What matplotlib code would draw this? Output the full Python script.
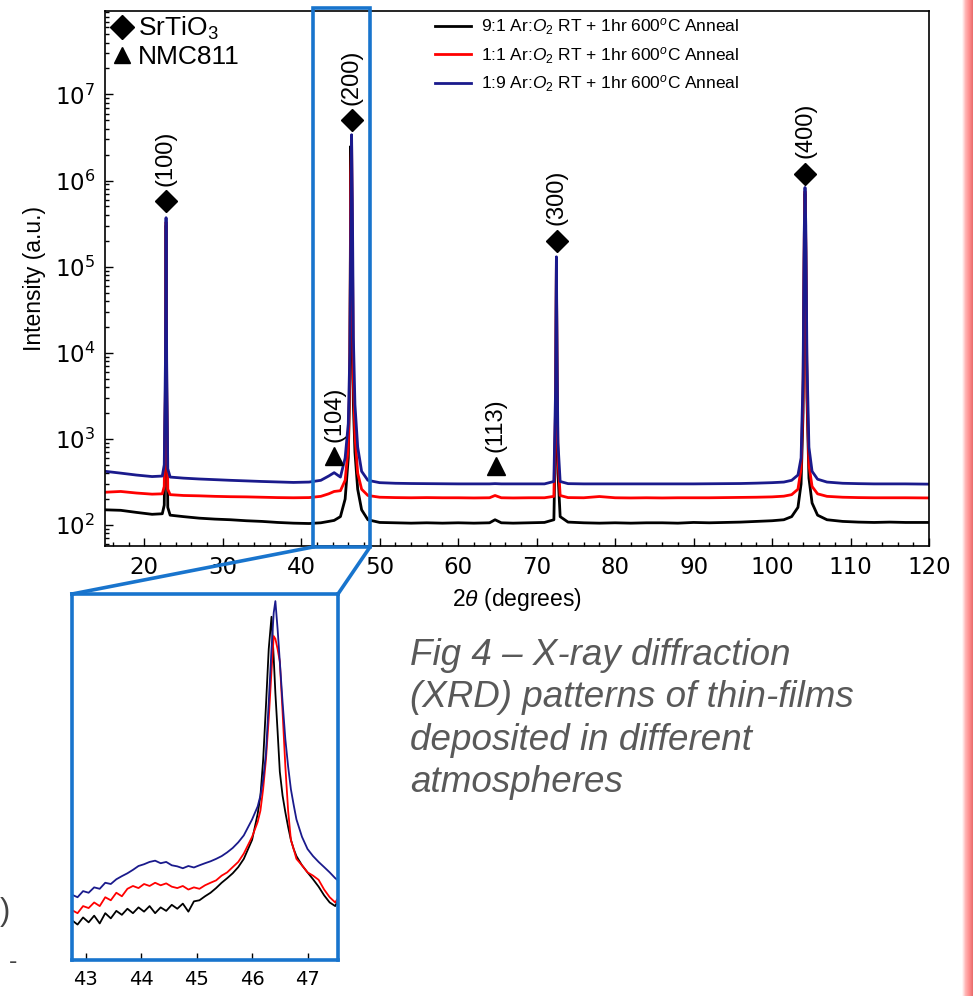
import matplotlib
matplotlib.use("Agg")
import matplotlib.pyplot as plt
import numpy as np
from matplotlib.lines import Line2D
from matplotlib.patches import Rectangle
from matplotlib.font_manager import FontProperties
from matplotlib.colors import LinearSegmentedColormap
from matplotlib.ticker import LogLocator, MultipleLocator, NullFormatter

plt.rcParams["font.family"] = ["DejaVu Sans"]
plt.rcParams["mathtext.rm"] = "Liberation Sans"
plt.rcParams["mathtext.it"] = "Liberation Sans:italic"
plt.rcParams["mathtext.bf"] = "Liberation Sans:bold"

# ---- data: full scan (main plot) ----
two_theta = [15, 17, 19, 21, 22.3, 22.55, 22.7, 22.78, 22.86, 23.0, 23.3,
             25, 27, 29, 31, 33, 35, 37, 39, 41,
             42.5, 43.5, 44.2, 45.0, 45.6, 46.0, 46.2, 46.32, 46.42, 46.52, 46.65, 46.85, 47.2, 47.7, 48.5,
             50, 52, 54, 56, 58, 60, 62, 64, 64.7, 65.5, 67, 69, 71,
             72.2, 72.42, 72.52, 72.6, 72.72, 73.0, 74,
             76, 78, 80, 82, 84, 86, 88, 90, 92, 94, 96, 98, 100,
             101.5, 102.5, 103.3, 103.7, 103.95, 104.1, 104.2, 104.3, 104.45, 104.7, 105.1, 105.8,
             107, 109, 111, 113, 115, 117, 120]

int_91 = [150, 148, 140, 133, 135, 170, 3000, 3.0e5, 3000, 160, 130,
          125, 120, 117, 115, 112, 110, 107, 105, 104,
          106, 110, 113, 125, 200, 600, 5000, 2.5e6, 3e5, 15000, 2500, 700, 260, 150, 115,
          107, 106, 105, 106, 105, 106, 105, 106, 115, 106, 105, 106, 107,
          115, 1500, 1.1e5, 5000, 400, 125, 108,
          106, 105, 106, 105, 106, 106, 105, 107, 106, 107, 108, 110, 112,
          115, 125, 160, 300, 2000, 1.2e5, 7.0e5, 1.5e5, 3000, 350, 180, 130,
          115, 110, 108, 107, 108, 107, 107]

int_11 = [240, 245, 235, 228, 230, 280, 4000, 3.3e5, 4000, 260, 225,
          220, 218, 215, 213, 212, 210, 208, 207, 208,
          215, 230, 245, 250, 330, 800, 6000, 1.2e6, 3.0e6, 2e5, 5000, 1100, 400, 260, 220,
          210, 208, 207, 208, 207, 207, 206, 207, 220, 207, 206, 207, 207,
          215, 2500, 1.2e5, 6000, 600, 220, 208,
          207, 214, 207, 206, 207, 206, 207, 207, 207, 208, 209, 210, 212,
          216, 225, 260, 450, 3000, 2e5, 7.5e5, 2e5, 4000, 500, 280, 230,
          215, 210, 208, 207, 207, 207, 206]

int_19 = [420, 400, 380, 365, 370, 500, 8000, 3.7e5, 8000, 450, 360,
          350, 342, 336, 330, 325, 320, 316, 312, 315,
          330, 370, 405, 360, 600, 1500, 10000, 3e5, 3.4e6, 6e5, 15000, 2500, 800, 420, 330,
          310, 305, 303, 302, 301, 300, 300, 300, 302, 300, 300, 300, 300,
          320, 4000, 1.3e5, 10000, 900, 320, 302,
          300, 300, 300, 300, 300, 300, 300, 300, 301, 302, 303, 306, 310,
          315, 330, 380, 600, 5000, 2.5e5, 8.3e5, 3e5, 8000, 800, 420, 340,
          315, 305, 302, 300, 300, 300, 298]

# ---- data: zoom on the (200) peak (inset) ----
zoom_theta = [42.75, 42.85, 42.95, 43.05, 43.15, 43.25, 43.35, 43.45, 43.55, 43.65, 43.75,
              43.85, 43.95, 44.05, 44.15, 44.25, 44.35, 44.45, 44.55, 44.65, 44.75,
              44.85, 44.95, 45.05, 45.15, 45.25, 45.35, 45.45, 45.55, 45.65, 45.75, 45.85,
              46.0, 46.1, 46.15, 46.2, 46.25, 46.3, 46.35, 46.39, 46.42, 46.46, 46.5,
              46.55, 46.6, 46.65, 46.7, 46.75, 46.8, 46.9, 47.0, 47.1, 47.2, 47.3, 47.4, 47.5, 47.55]

zoom_91 = [160, 140, 175, 150, 185, 145, 200, 170, 215, 190, 230,
           200, 240, 210, 250, 200, 240, 215, 260, 230, 270,
           210, 290, 300, 340, 380, 440, 520, 600, 700, 850, 1100,
           2000, 4500, 7900, 25000, 1.35e5, 8e5, 2.2e6, 6e5, 2e5, 60000, 17000,
           8000, 4750, 3000, 2000, 1500, 1200, 900, 720, 580, 460, 350, 280, 250, 300]

zoom_11 = [220, 200, 250, 235, 280, 250, 330, 300, 380, 340, 430,
           470, 440, 500, 470, 520, 480, 510, 460, 440, 470,
           420, 450, 430, 480, 520, 560, 650, 720, 850, 1000, 1300,
           2200, 3500, 5000, 10000, 25000, 90000, 4e5, 1.2e6, 1.1e6, 8e5, 5.4e5,
           1.1e5, 20000, 5000, 2000, 1500, 1100, 900, 720, 650, 570, 420, 330, 280, 320]

zoom_19 = [357, 330, 400, 380, 450, 430, 520, 500, 580, 640, 700,
           780, 880, 930, 1000, 1040, 960, 1000, 900, 870, 820,
           880, 840, 900, 960, 1020, 1100, 1200, 1350, 1550, 1850, 2300,
           3800, 5700, 8000, 13500, 30000, 1.5e5, 8e5, 2.5e6, 3.6e6, 1.5e6, 5.4e5,
           1.5e5, 47000, 20000, 9800, 6000, 3800, 2200, 1500, 1200, 1000, 850, 720, 600, 560]

series_labels = ["9:1 Ar:$O_2$ RT + 1hr 600$^o$C Anneal",
                 "1:1 Ar:$O_2$ RT + 1hr 600$^o$C Anneal",
                 "1:9 Ar:$O_2$ RT + 1hr 600$^o$C Anneal"]
series_colors = ["black", "red", "#1a1a8c"]

# peak markers
sto_theta = [22.75, 46.45, 72.55, 104.2]
sto_marker_y = [5.8e5, 5.0e6, 2.0e5, 1.2e6]
sto_hkl = ["(100)", "(200)", "(300)", "(400)"]
nmc_theta = [44.2, 64.8]
nmc_marker_y = [630, 480]
nmc_hkl = ["(104)", "(113)"]

W, H = 973, 996
def fx(px):
    return px / W
def fy(py):
    return 1 - py / H

fig = plt.figure(figsize=(W / 100, H / 100), dpi=100)
arial = "Liberation Sans"
box_blue = "#1874CD"

# ---- main axes ----
ax = fig.add_axes([fx(105), fy(546), fx(929) - fx(105), fy(11) - fy(546)])
for ys, c, lab in zip([int_91, int_11, int_19], series_colors, series_labels):
    ax.plot(two_theta, ys, color=c, lw=2.0, label=lab)
ax.set_yscale("log")
ax.set_xlim(15, 120)
ax.set_ylim(57, 9.3e7)
ax.xaxis.set_major_locator(MultipleLocator(10))
ax.xaxis.set_minor_locator(MultipleLocator(2))
ax.yaxis.set_major_locator(LogLocator(base=10, numticks=20))
ax.yaxis.set_minor_locator(LogLocator(base=10, subs=np.arange(2, 10), numticks=100))
ax.yaxis.set_minor_formatter(NullFormatter())
ax.tick_params(which="both", direction="in", top=False, right=False, width=1)
ax.tick_params(which="major", length=6, labelsize=16.5, pad=7)
ax.tick_params(which="minor", length=3)
for s in ax.spines.values():
    s.set_linewidth(1.2)
ax.set_xlabel("2$\\theta$ (degrees)", fontsize=16.5, fontfamily=arial,
              math_fontfamily="custom", labelpad=5)
ax.set_ylabel("Intensity (a.u.)", fontsize=16.5, fontfamily=arial, labelpad=6)

ax.plot(sto_theta, sto_marker_y, "D", color="black", ms=11.5, ls="none")
for t, yv, lab in zip(sto_theta, sto_marker_y, sto_hkl):
    ax.annotate(lab, (t, yv), xytext=(0, 11), textcoords="offset points",
                rotation=90, ha="center", va="bottom", fontsize=17, fontfamily=arial)
ax.plot(nmc_theta, nmc_marker_y, "^", color="black", ms=13, ls="none")
for t, yv, lab in zip(nmc_theta, nmc_marker_y, nmc_hkl):
    ax.annotate(lab, (t, yv), xytext=(0, 10), textcoords="offset points",
                rotation=90, ha="center", va="bottom", fontsize=17, fontfamily=arial)

phase_handles = [Line2D([], [], marker="D", ls="none", color="black", ms=12),
                 Line2D([], [], marker="^", ls="none", color="black", ms=11)]
leg1 = ax.legend(phase_handles, ["SrTiO$_3$", "NMC811"], loc="upper left",
                 bbox_to_anchor=(0.0, 1.0), frameon=False, borderpad=0.15, borderaxespad=0,
                 handlelength=1.0, handletextpad=0.1, labelspacing=0.1,
                 prop=FontProperties(family=arial, size=19, math_fontfamily="custom"))
ax.add_artist(leg1)
ax.legend(loc="upper left", bbox_to_anchor=(0.40, 0.99), frameon=False, borderpad=0,
          borderaxespad=0, handlelength=2.1, handletextpad=0.6, labelspacing=0.45,
          prop=FontProperties(family=arial, size=12.5, math_fontfamily="custom"))

# highlight box and connectors
fig.patches.append(Rectangle((fx(313), fy(547)), fx(370) - fx(313), fy(8) - fy(547),
                             transform=fig.transFigure, fill=False, ec=box_blue, lw=2.6,
                             zorder=10))
fig.lines.append(Line2D([fx(313), fx(72)], [fy(547), fy(594)], transform=fig.transFigure,
                        color=box_blue, lw=2.6, zorder=10))
fig.lines.append(Line2D([fx(370), fx(338)], [fy(547), fy(594)], transform=fig.transFigure,
                        color=box_blue, lw=2.6, zorder=10))

# ---- inset ----
axin = fig.add_axes([fx(72), fy(960), fx(338) - fx(72), fy(594) - fy(960)])
for ys, c in zip([zoom_91, zoom_11, zoom_19], series_colors):
    axin.plot(zoom_theta, ys, color=c, lw=1.3)
axin.set_yscale("log")
axin.set_xlim(42.75, 47.55)
axin.set_ylim(46, 4.5e6)
axin.set_xticks([43, 44, 45, 46, 47])
axin.set_yticks([])
axin.yaxis.set_minor_locator(matplotlib.ticker.NullLocator())
axin.tick_params(axis="x", direction="in", length=5, width=1, labelsize=14, pad=7)
for s in axin.spines.values():
    s.set_color(box_blue)
    s.set_linewidth(2.6)

# ---- caption ----
fig.text(fx(410), fy(638), "Fig 4 \u2013 X-ray diffraction\n(XRD) patterns of thin-films\n"
         "deposited in different\natmospheres", fontsize=26.5, fontfamily=arial,
         style="italic", color="#595959", ha="left", va="top", linespacing=1.27)

# cropped poster leftovers at the left edge
fig.text(fx(0), fy(912), ")", fontsize=22, fontfamily=arial, color="#444444",
         ha="left", va="center")
fig.text(fx(9), fy(962), "-", fontsize=18, fontfamily=arial, color="#444444",
         ha="left", va="center")

# pink border strip on the right
strip = fig.add_axes([fx(962), 0, fx(973) - fx(962), 1])
grad = np.linspace(0, 1, 64).reshape(1, -1)
cmap = LinearSegmentedColormap.from_list("edge", ["#ffffff", "#ffb3b3", "#ff8f8f", "#e86a6a"])
strip.imshow(grad, aspect="auto", cmap=cmap, extent=[0, 1, 0, 1])
strip.set_axis_off()

fig.savefig("out.png", dpi=100)
